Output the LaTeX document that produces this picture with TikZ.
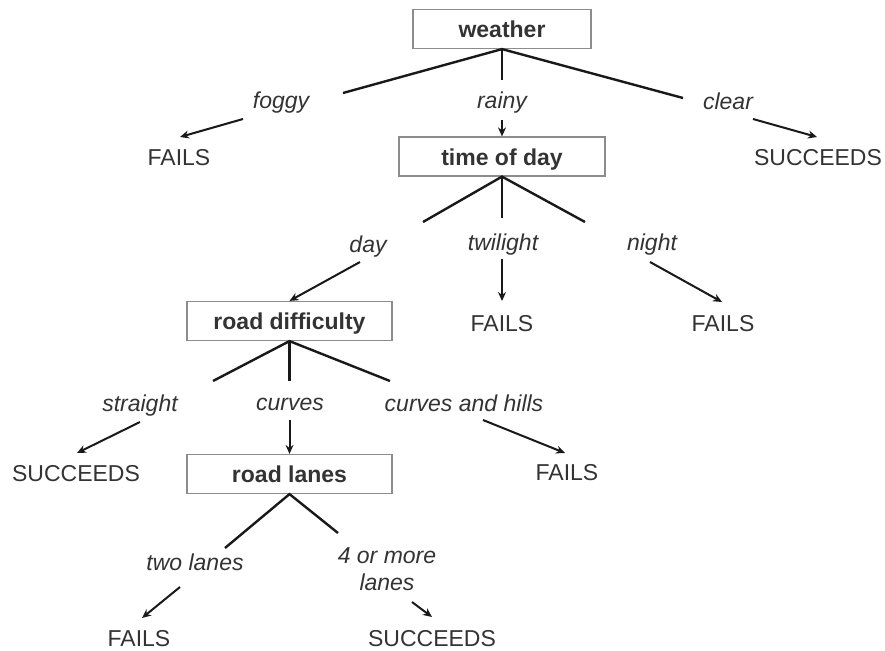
\documentclass[tikz,border=0pt]{standalone}
\usepackage{fontspec}
\setmainfont{Liberation Sans}
\usetikzlibrary{arrows.meta}
\definecolor{ink}{HTML}{333333}
\definecolor{frame}{HTML}{8C8C8C}
\begin{document}
\begin{tikzpicture}[x=1pt,y=-1pt,
  font=\fontsize{23}{27}\selectfont, text=ink,
  attr/.style={draw=frame, line width=1.2pt, font=\fontsize{23}{27}\selectfont\bfseries,
    minimum height=39pt, inner sep=0pt, text height=17pt, text depth=0pt},
  edgelabel/.style={font=\fontsize{23}{27}\selectfont\itshape, anchor=base, inner sep=0pt},
  outcome/.style={anchor=base, inner sep=0pt},
  branch/.style={line width=2.4pt, draw=black!90},
  pointer/.style={line width=2pt, draw=black!90, -{Stealth[length=9pt,width=8pt]}}]
\useasboundingbox (0,0) rectangle (885,650);

% attribute boxes
\node[attr, minimum width=178pt] (weather) at (502,29) {weather};
\node[attr, minimum width=206pt] (tod) at (502,156.5) {time of day};
\node[attr, minimum width=205pt] (rd) at (289.5,321) {road difficulty};
\node[attr, minimum width=205pt] (rl) at (289.5,474) {road lanes};

% branch labels
\node[edgelabel] (foggy) at (281,109) {foggy};
\node[edgelabel] (rainy) at (502,109) {rainy};
\node[edgelabel] (clear) at (728,110) {clear};
\node[edgelabel] (day) at (368,252) {day};
\node[edgelabel] (twilight) at (503,250) {twilight};
\node[edgelabel] (night) at (652,250) {night};
\node[edgelabel] (straight) at (140,411) {straight};
\node[edgelabel] (curves) at (290,410) {curves};
\node[edgelabel] (hills) at (464,411) {curves and hills};
\node[edgelabel] (two) at (195,570) {two lanes};
\node[edgelabel, align=center] (four) at (387,590) {4 or more\\lanes};

% outcomes
\node[outcome] (o1) at (179,165) {FAILS};
\node[outcome] (o2) at (818,165) {SUCCEEDS};
\node[outcome] (o3) at (502,331) {FAILS};
\node[outcome] (o4) at (723,331) {FAILS};
\node[outcome] (o5) at (76,481) {SUCCEEDS};
\node[outcome] (o6) at (567,480) {FAILS};
\node[outcome] (o7) at (139,646) {FAILS};
\node[outcome] (o8) at (432,646) {SUCCEEDS};

% free ends of the branch lines
\coordinate (wL) at (343,93);
\coordinate (wC) at (502,80);
\coordinate (wR) at (683,98);
\coordinate (tL) at (423,222);
\coordinate (tC) at (502,218);
\coordinate (tR) at (585,222);
\coordinate (rL) at (213,381);
\coordinate (rC) at (289.5,381);
\coordinate (rR) at (390,381);
\coordinate (lL) at (225,548);
\coordinate (lR) at (338,533);

% arrow ends
\coordinate (aFog) at (243,119);  \coordinate (bFog) at (180,137);
\coordinate (aRain) at (502,120);
\coordinate (aClr) at (753,119);  \coordinate (bClr) at (817,137);
\coordinate (aDay) at (360,262);
\coordinate (aTw) at (502,259);   \coordinate (bTw) at (502,301);
\coordinate (aNt) at (650,262);   \coordinate (bNt) at (722,302);
\coordinate (aSt) at (140,422);   \coordinate (bSt) at (77,453);
\coordinate (aCv) at (289.5,420);
\coordinate (aCh) at (483,420);   \coordinate (bCh) at (565,453);
\coordinate (aTwo) at (180,587);  \coordinate (bTwo) at (142,618);
\coordinate (aFour) at (412,602); \coordinate (bFour) at (432,617);

% branches
\draw[branch] (wL) -- (weather.south) -- (wR);
\draw[branch] (weather.south) -- (wC);
\draw[branch] (tL) -- (tod.south) -- (tR);
\draw[branch] (tod.south) -- (tC);
\draw[branch] (rL) -- (rd.south) -- (rR);
\draw[branch] (rd.south) -- (rC);
\draw[branch] (lL) -- (rl.south) -- (lR);

% arrows to the next test or outcome
\draw[pointer] (aFog) -- (bFog);
\draw[pointer] (aRain) -- (tod.north);
\draw[pointer] (aClr) -- (bClr);
\draw[pointer] (aDay) -- (rd.north);
\draw[pointer] (aTw) -- (bTw);
\draw[pointer] (aNt) -- (bNt);
\draw[pointer] (aSt) -- (bSt);
\draw[pointer] (aCv) -- (rl.north);
\draw[pointer] (aCh) -- (bCh);
\draw[pointer] (aTwo) -- (bTwo);
\draw[pointer] (aFour) -- (bFour);
\end{tikzpicture}
\end{document}
